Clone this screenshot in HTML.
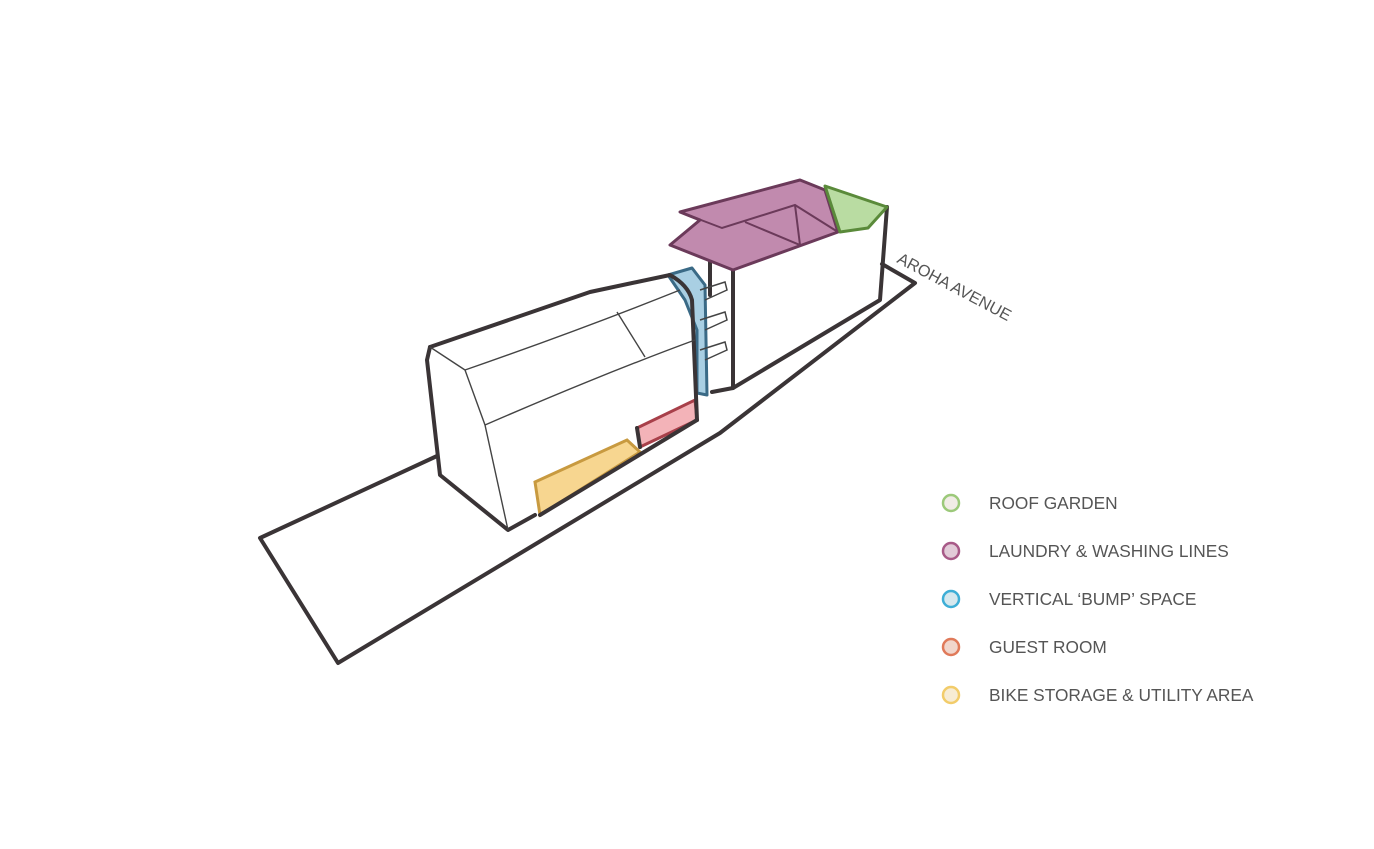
<!DOCTYPE html>
<html><head><meta charset="utf-8"><style>
html,body{margin:0;padding:0;background:#fff;}
body{width:1374px;height:849px;overflow:hidden;}
svg{display:block}
text{font-family:"Liberation Sans",sans-serif;fill:#555;}
</style></head><body>
<svg width="1374" height="849" viewBox="0 0 1374 849">
<g fill="none" stroke="#3a3436" stroke-width="4" stroke-linejoin="round" stroke-linecap="round">
 <polyline points="437,456 260,538 338,663 720,433 915,283 882,264"/>
 <polyline points="733,270 733,388 712,392"/>
 <polyline points="733,388 880,300 887,207"/>
 <polyline points="710,262 710,295"/>
</g>
<polygon points="670,245 733,270 838,232 825,190 800,180 680,212 700,220" fill="#c18aae" stroke="#6b3a5a" stroke-width="3" stroke-linejoin="round"/>
<polyline points="680,212 722,228 795,205 838,232" fill="none" stroke="#6b3a5a" stroke-width="2"/>
<polyline points="745,222 800,245 795,205" fill="none" stroke="#6b3a5a" stroke-width="2"/>
<polygon points="825,186 887,207 868,228 840,232" fill="#b9dca2" stroke="#5a8a3a" stroke-width="3" stroke-linejoin="round"/>
<polygon points="668,275 692,268 705,285 707,395 697,393 697,330 685,300" fill="#a9cfe3" stroke="#3a6a86" stroke-width="3" stroke-linejoin="round"/>
<g fill="none" stroke="#444" stroke-width="1.5">
 <polyline points="700,290 725,282 727,290 705,300"/>
 <polyline points="700,320 725,312 727,320 705,330"/>
 <polyline points="700,350 725,342 727,350 705,360"/>
</g>
<polygon points="535,482 627,440 640,452 540,515" fill="#f7d690" stroke="#c89a40" stroke-width="3"/>
<polygon points="637,428 695,400 697,420 640,447" fill="#f3b3b8" stroke="#a8404a" stroke-width="3"/>
<g fill="none" stroke="#3a3436" stroke-width="4" stroke-linejoin="round" stroke-linecap="round">
 <path d="M430,347 L590,292 L670,275 Q688,285 692,300 L697,420"/>
 <polyline points="430,347 427,360 440,475 508,530 535,515"/>
 <polyline points="540,515 697,420"/>
 <polyline points="637,428 640,447"/>
</g>
<g fill="none" stroke="#444" stroke-width="1.4">
 <polyline points="430,347 465,370 485,425 508,530"/>
 <path d="M465,370 Q580,330 680,290"/>
 <path d="M485,425 Q600,375 695,340"/>
 <polyline points="617,312 645,357"/>
</g>
<text x="0" y="0" font-size="16.3" transform="translate(896,262) rotate(28)">AROHA AVENUE</text>
<g stroke-width="2.5" fill="#f1ece6">
 <circle cx="951" cy="503" r="8" stroke="#9cc97a"/>
 <circle cx="951" cy="551" r="8" stroke="#a85a88" fill="#e2cbd8"/>
 <circle cx="951" cy="599" r="8" stroke="#3eaed6" fill="#d6e8ee"/>
 <circle cx="951" cy="647" r="8" stroke="#e07a5a" fill="#f1d6cc"/>
 <circle cx="951" cy="695" r="8" stroke="#f2cc6a" fill="#f7ecd4"/>
</g>
<g font-size="17.3">
 <text x="989" y="509">ROOF GARDEN</text>
 <text x="989" y="557">LAUNDRY &amp; WASHING LINES</text>
 <text x="989" y="605">VERTICAL ‘BUMP’ SPACE</text>
 <text x="989" y="653">GUEST ROOM</text>
 <text x="989" y="701">BIKE STORAGE &amp; UTILITY AREA</text>
</g>
</svg>
</body></html>
